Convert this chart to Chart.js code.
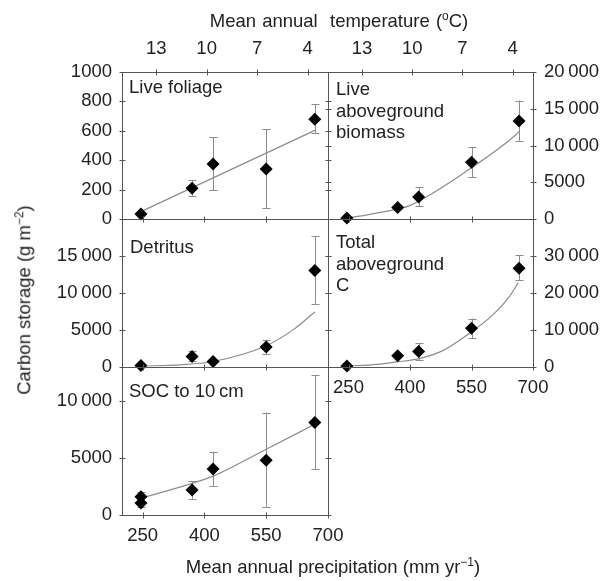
<!DOCTYPE html>
<html><head><meta charset="utf-8">
<script src="https://cdn.jsdelivr.net/npm/chart.js@4.4.1/dist/chart.umd.min.js"></script>
<style>
html,body{margin:0;padding:0;background:#fff;}
body{width:604px;height:581px;overflow:hidden;position:relative;font-family:"Liberation Sans",Arial,sans-serif;color:#222;}
canvas{position:absolute;left:0;top:0;}
.t{position:absolute;font-size:18.5px;white-space:nowrap;line-height:21.5px;}
.c{transform:translate(-50%,-50%);}
sup{font-size:12px;line-height:0;vertical-align:7px;}
</style></head><body>
<canvas id="cA" width="604" height="581"></canvas>
<canvas id="cB" width="604" height="581"></canvas>
<canvas id="cC" width="604" height="581"></canvas>
<canvas id="cD" width="604" height="581"></canvas>
<canvas id="cE" width="604" height="581"></canvas>

<div class="t c" style="left:339px;top:21px;word-spacing:1px;">Mean annual&nbsp; temperature (<sup>o</sup>C)</div>
<div class="t c" style="left:333px;top:567px;">Mean annual precipitation (mm yr<sup>−1</sup>)</div>
<div class="t c" style="left:24px;top:300px;transform:translate(-50%,-50%) rotate(-90deg);">Carbon storage (g m<sup>−2</sup>)</div>

<div class="t" style="left:129px;top:76px;">Live foliage</div>
<div class="t" style="left:336px;top:78px;">Live<br>aboveground<br>biomass</div>
<div class="t" style="left:130px;top:236px;">Detritus</div>
<div class="t" style="left:336px;top:231px;">Total<br>aboveground<br>C</div>
<div class="t" style="left:129px;top:380px;">SOC to 10&#8201;cm</div>

<script>
// ---- tick values ----
const PRECIP_TICKS = [250, 400, 550, 700];
const PRECIP_RANGE = [200, 700];
const TEMP_TICKS = [13, 10, 7, 4];
const TEMP_RANGE = [2.79, 15.03];

// ---- Live foliage (g m-2) ----
const foliageX  = [246, 370, 421, 550, 668];
const foliageY  = [34, 210, 375, 340, 678];
const foliageLo = [null, 157, 197, 75, 582];
const foliageHi = [null, 262, 557, 612, 779];
const foliageFitX = [246, 668];
const foliageFitY = [50, 603];
const foliageTicks = [0, 200, 400, 600, 800, 1000];

// ---- Live aboveground biomass ----
const biomassX  = [246, 370, 421, 550, 666];
const biomassY  = [150, 1550, 3010, 7710, 13330];
const biomassLo = [null, null, 1780, 5710, 10640];
const biomassHi = [null, null, 4290, 9770, 16120];
const biomassFitX = [246, 302, 370, 399, 549, 659, 666];
const biomassFitY = [100, 640, 1370, 1820, 6940, 11500, 11900];
const biomassTicks = [0, 5000, 10000, 15000, 20000];

// ---- Detritus ----
const detritusX  = [246, 370, 421, 550, 668];
const detritusY  = [120, 1360, 680, 2640, 13030];
const detritusLo = [null, 680, null, 1690, 8500];
const detritusHi = [null, 2040, null, 3600, 17670];
const detritusFitX = [246, 341, 421, 550, 616, 668];
const detritusFitY = [50, 230, 680, 2820, 5000, 7400];
const detritusTicks = [0, 5000, 10000, 15000];

// ---- Total aboveground C ----
const totalX  = [246, 370, 421, 550, 666];
const totalY  = [150, 2900, 4090, 10360, 26620];
const totalLo = [null, null, 1740, 7740, 23440];
const totalHi = [null, null, 6370, 13000, 30170];
const totalFitX = [246, 320, 370, 420, 480, 549, 600, 640, 664];
const totalFitY = [100, 600, 1300, 2090, 4300, 9360, 13800, 18600, 22700];
const totalTicks = [0, 10000, 20000, 30000];

// ---- SOC to 10 cm ----
const socX  = [246, 246, 370, 421, 550, 668];
const socY  = [1600, 1050, 2180, 4020, 4800, 8090];
const socLo = [null, 725, 1420, 2560, 725, 4020];
const socHi = [2010, null, 2970, 5530, 8970, 12220];
const socFitX = [246, 370, 421, 550, 668];
const socFitY = [1460, 2770, 3400, 5760, 7940];
const socTicks = [0, 5000, 10000];

const FONT = {family: '"Liberation Sans", Arial, sans-serif', size: 18.5};
const TXT = '#222';
const AX = '#555';
const fmt = v => v >= 10000 ? String(v).replace(/\B(?=(\d{3})+(?!\d))/g, '\u2009') : String(v);

const decor = {
  id: 'decor',
  beforeDatasetsDraw(chart) {
    const {ctx} = chart, x = chart.scales.x, y = chart.scales.y;
    const pts = chart.data.datasets[1].data;
    ctx.save(); ctx.strokeStyle = '#8c8c8c'; ctx.lineWidth = 1;
    pts.forEach(p => {
      if (p.lo == null && p.hi == null) return;
      const px = Math.round(x.getPixelForValue(p.x)) + 0.5;
      const t = y.getPixelForValue(p.hi == null ? p.y : p.hi);
      const b = y.getPixelForValue(p.lo == null ? p.y : p.lo);
      ctx.beginPath();
      ctx.moveTo(px, t); ctx.lineTo(px, b);
      if (p.hi != null) { ctx.moveTo(px - 4, Math.round(t) + 0.5); ctx.lineTo(px + 4, Math.round(t) + 0.5); }
      if (p.lo != null) { ctx.moveTo(px - 4, Math.round(b) + 0.5); ctx.lineTo(px + 4, Math.round(b) + 0.5); }
      ctx.stroke();
    });
    ctx.restore();
  },
  afterDraw(chart, args, opts) {
    const {ctx, chartArea: a} = chart, s = chart.scales;
    const L = Math.round(a.left) + 0.5, R = Math.round(a.right) + 0.5;
    const T = Math.round(a.top) + 0.5, B = Math.round(a.bottom) + 0.5;
    ctx.save(); ctx.strokeStyle = AX; ctx.lineWidth = 1;
    ctx.beginPath();
    ctx.moveTo(L, T); ctx.lineTo(R, T); ctx.lineTo(R, B); ctx.lineTo(L, B); ctx.closePath();
    const k = 3;
    opts.yTicks.forEach(v => {
      const py = Math.round(s.y.getPixelForValue(v)) + 0.5;
      ctx.moveTo(L - k, py); ctx.lineTo(L + k, py);
      ctx.moveTo(R - k, py); ctx.lineTo(R + k, py);
    });
    PRECIP_TICKS.forEach(v => {
      const px = Math.round(s.x.getPixelForValue(v)) + 0.5;
      ctx.moveTo(px, B - k); ctx.lineTo(px, B + k);
    });
    if (s.xt) TEMP_TICKS.forEach(v => {
      const px = Math.round(s.xt.getPixelForValue(v)) + 0.5;
      ctx.moveTo(px, T - k); ctx.lineTo(px, T + k);
    });
    ctx.stroke();
    ctx.restore();
  }
};

function zip(xs, ys, lo, hi) {
  return xs.map((x, i) => ({x: x, y: ys[i], lo: lo ? lo[i] : null, hi: hi ? hi[i] : null}));
}

function panel(id, c) {
  const XH = 40, TH = 45;
  const yRight = c.yPos === 'right';
  const YW = yRight ? 71 : 80;
  const pad = {
    left: c.box[0] - (yRight ? 0 : YW),
    right: 604 - c.box[2] - (yRight ? YW : 0),
    top: c.box[1] - (c.temp ? TH : 0),
    bottom: 581 - c.box[3] - (c.xLabels ? XH : 0)
  };
  const scales = {
    x: {
      type: 'linear', position: 'bottom', min: PRECIP_RANGE[0], max: PRECIP_RANGE[1], display: c.xLabels,
      grid: {display: false, drawTicks: false}, border: {display: false},
      ticks: {padding: c.xPad || 9, font: FONT, color: TXT, maxRotation: 0, autoSkip: false, callback: v => String(v)},
      afterBuildTicks: s => { s.ticks = PRECIP_TICKS.map(v => ({value: v})); },
      afterFit: s => { if (c.xLabels) s.height = XH; s.paddingLeft = s.paddingRight = 0; }
    },
    y: {
      type: 'linear', position: c.yPos, min: c.yMin, max: c.yMax, display: true,
      grid: {display: false, drawTicks: false}, border: {display: false},
      ticks: {padding: yRight ? 11 : 10, font: FONT, color: TXT, autoSkip: false, callback: v => fmt(v)},
      afterBuildTicks: s => { s.ticks = c.yTicks.map(v => ({value: v})); },
      afterFit: s => { s.width = YW; s.paddingTop = s.paddingBottom = 0; }
    }
  };
  if (c.temp) {
    scales.xt = {
      type: 'linear', position: 'top', reverse: true, min: TEMP_RANGE[0], max: TEMP_RANGE[1], display: true,
      grid: {display: false, drawTicks: false}, border: {display: false},
      ticks: {padding: 12, font: FONT, color: TXT, maxRotation: 0, autoSkip: false, callback: v => String(v)},
      afterBuildTicks: s => { s.ticks = TEMP_TICKS.map(v => ({value: v})); },
      afterFit: s => { s.height = TH; s.paddingLeft = s.paddingRight = 0; }
    };
  }
  return new Chart(document.getElementById(id), {
    type: 'scatter',
    data: {
      datasets: [
        {type: 'line', data: zip(c.fitX, c.fitY), borderColor: '#8c8c8c', borderWidth: 1.2,
         pointRadius: 0, fill: false, cubicInterpolationMode: 'monotone', order: 2},
        {type: 'scatter', data: zip(c.xs, c.ys, c.lo, c.hi), pointStyle: 'rectRot', pointRadius: 6.5,
         backgroundColor: '#000', borderColor: '#000', borderWidth: 0, clip: false, order: 1}
      ]
    },
    options: {
      responsive: false, animation: false, devicePixelRatio: 1,
      layout: {padding: pad, autoPadding: false},
      scales: scales,
      plugins: {legend: {display: false}, tooltip: {enabled: false}, decor: {yTicks: c.yTicks}},
      events: []
    },
    plugins: [decor]
  });
}

const ROW = [72, 219, 366.5, 515];
const COL = [122, 328, 533];

panel('cA', {box: [COL[0], ROW[0], COL[1], ROW[1]], yPos: 'left', yMin: 0, yMax: 1000, yTicks: foliageTicks,
  temp: true, xLabels: false, xs: foliageX, ys: foliageY, lo: foliageLo, hi: foliageHi, fitX: foliageFitX, fitY: foliageFitY});
panel('cB', {box: [COL[1], ROW[0], COL[2], ROW[1]], yPos: 'right', yMin: 0, yMax: 20000, yTicks: biomassTicks,
  temp: true, xLabels: false, xs: biomassX, ys: biomassY, lo: biomassLo, hi: biomassHi, fitX: biomassFitX, fitY: biomassFitY});
panel('cC', {box: [COL[0], ROW[1], COL[1], ROW[2]], yPos: 'left', yMin: 0, yMax: 20000, yTicks: detritusTicks,
  temp: false, xLabels: false, xs: detritusX, ys: detritusY, lo: detritusLo, hi: detritusHi, fitX: detritusFitX, fitY: detritusFitY});
panel('cD', {box: [COL[1], ROW[1], COL[2], ROW[2]], yPos: 'right', yMin: 0, yMax: 40000, yTicks: totalTicks,
  temp: false, xLabels: true, xPad: 10, xs: totalX, ys: totalY, lo: totalLo, hi: totalHi, fitX: totalFitX, fitY: totalFitY});
panel('cE', {box: [COL[0], ROW[2], COL[1], ROW[3]], yPos: 'left', yMin: 0, yMax: 13000, yTicks: socTicks,
  temp: false, xLabels: true, xPad: 10, xs: socX, ys: socY, lo: socLo, hi: socHi, fitX: socFitX, fitY: socFitY});
</script>
</body></html>
